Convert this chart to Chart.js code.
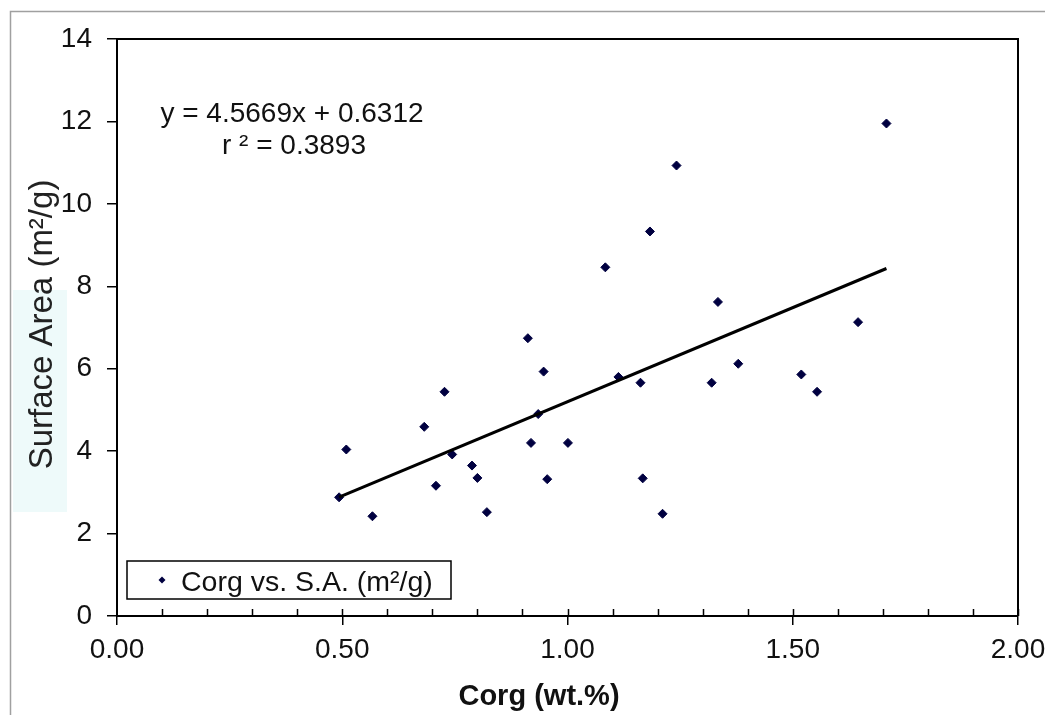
<!DOCTYPE html>
<html>
<head>
<meta charset="utf-8">
<title>Corg vs Surface Area</title>
<script src="https://cdn.jsdelivr.net/npm/chart.js@4.4.0/dist/chart.umd.min.js"></script>
<style>
  body { margin: 0; background: #fff; }
  canvas { display: block; }
</style>
</head>
<body>
<canvas id="chart" width="1045" height="715"></canvas>
<script>
// Corg (wt.%) and surface area (m2/g)
const corg = [0.493, 0.509, 0.567, 0.682, 0.708, 0.727, 0.744, 0.788, 0.800, 0.821,
              0.912, 0.919, 0.935, 0.947, 0.955, 1.001, 1.084, 1.113, 1.162, 1.167,
              1.183, 1.211, 1.242, 1.320, 1.334, 1.379, 1.519, 1.554, 1.645, 1.708];
const surfaceArea = [2.88, 4.04, 2.42, 4.59, 3.16, 5.44, 3.92, 3.65, 3.35, 2.52,
                     6.74, 4.20, 4.90, 5.93, 3.32, 4.20, 8.46, 5.80, 5.66, 3.34,
                     9.33, 2.48, 10.93, 5.66, 7.62, 6.12, 5.86, 5.44, 7.13, 11.95];

// linear trendline as printed on the chart
const slope = 4.5669;
const intercept = 0.6312;
const trendX = [Math.min(...corg), Math.max(...corg)];

const eqLines = ['y = 4.5669x + 0.6312', 'r \u00b2 = 0.3893'];
const seriesLabel = 'Corg vs. S.A. (m\u00b2/g)';
const xTitle = 'Corg (wt.%)';
const yTitle = 'Surface Area (m\u00b2/g)';

const FONT = "'Liberation Sans', Arial, sans-serif";
const pointColor = '#000040';

const points = corg.map(function(x, i) { return { x: x, y: surfaceArea[i] }; });
const trend = trendX.map(function(x) { return { x: x, y: slope * x + intercept }; });

const decorations = {
    id: 'decorations',
    beforeDraw: function(chart) {
        const ctx = chart.ctx;
        ctx.save();
        // outer frame, cut off on the right and bottom
        ctx.strokeStyle = '#a0a0a0';
        ctx.lineWidth = 1.5;
        ctx.beginPath();
        ctx.moveTo(1045, 11.5);
        ctx.lineTo(10.5, 11.5);
        ctx.lineTo(10.5, 715);
        ctx.stroke();
        // pale patch behind the y title
        ctx.fillStyle = '#eefafa';
        ctx.fillRect(13, 290, 54, 222);
        ctx.restore();
    },
    afterDraw: function(chart) {
        const ctx = chart.ctx;
        const area = chart.chartArea;
        const xs = chart.scales.x;
        ctx.save();

        // top and right frame of the plot
        ctx.strokeStyle = '#000';
        ctx.lineWidth = 2;
        ctx.beginPath();
        ctx.moveTo(area.left, area.top);
        ctx.lineTo(area.right, area.top);
        ctx.lineTo(area.right, area.bottom);
        ctx.stroke();

        // inward ticks every 0.1 on the x axis
        ctx.lineWidth = 1.5;
        ctx.beginPath();
        for (let i = 1; i <= 20; i++) {
            const px = Math.round(xs.getPixelForValue(i / 10)) + 0.5;
            ctx.moveTo(px, area.bottom);
            ctx.lineTo(px, area.bottom - 7);
        }
        ctx.stroke();

        // equation
        ctx.fillStyle = '#111';
        ctx.font = '28px ' + FONT;
        ctx.textAlign = 'center';
        ctx.textBaseline = 'alphabetic';
        ctx.fillText(eqLines[0], 292, 122);
        ctx.fillText(eqLines[1], 294, 154);

        // legend
        ctx.strokeStyle = '#000';
        ctx.lineWidth = 1.5;
        ctx.fillStyle = '#fff';
        ctx.fillRect(127, 561, 324, 38);
        ctx.strokeRect(127, 561, 324, 38);
        ctx.fillStyle = pointColor;
        ctx.beginPath();
        ctx.moveTo(162, 576.5);
        ctx.lineTo(165.5, 580);
        ctx.lineTo(162, 583.5);
        ctx.lineTo(158.5, 580);
        ctx.closePath();
        ctx.fill();
        ctx.fillStyle = '#111';
        ctx.textAlign = 'left';
        ctx.font = '28.5px ' + FONT;
        ctx.fillText(seriesLabel, 181, 591);

        // axis titles
        ctx.font = 'bold 29px ' + FONT;
        ctx.textAlign = 'center';
        ctx.fillText(xTitle, 539, 705);

        ctx.font = '33px ' + FONT;
        ctx.fillStyle = '#222';
        ctx.translate(52, (area.top + area.bottom) / 2 - 3);
        ctx.rotate(-Math.PI / 2);
        ctx.fillText(yTitle, 0, 0);
        ctx.restore();
    }
};

new Chart(document.getElementById('chart'), {
    type: 'scatter',
    data: {
        datasets: [
            {
                label: 'Trendline',
                type: 'line',
                data: trend,
                borderColor: '#000',
                borderWidth: 3,
                pointRadius: 0,
                fill: false,
                order: 0
            },
            {
                label: seriesLabel,
                data: points,
                pointStyle: 'rectRot',
                pointRadius: 4.5,
                pointBackgroundColor: pointColor,
                pointBorderColor: pointColor,
                pointBorderWidth: 1,
                order: 1
            }
        ]
    },
    options: {
        responsive: false,
        animation: false,
        layout: { padding: { top: 39, right: 27, left: 0, bottom: 0 } },
        plugins: {
            legend: { display: false },
            tooltip: { enabled: false }
        },
        scales: {
            x: {
                type: 'linear',
                min: 0,
                max: 2,
                afterFit: function(scale) {
                    scale.height = 99;
                    scale.paddingLeft = 0;
                    scale.paddingRight = 0;
                },
                ticks: {
                    stepSize: 0.5,
                    padding: 8,
                    color: '#111',
                    font: { family: FONT, size: 28 },
                    callback: function(v) { return v.toFixed(2); }
                },
                grid: {
                    drawOnChartArea: false,
                    drawTicks: true,
                    tickLength: 9,
                    tickColor: '#000',
                    lineWidth: 1.5
                },
                border: { display: true, color: '#000', width: 2 }
            },
            y: {
                min: 0,
                max: 14,
                afterFit: function(scale) { scale.width = 117; },
                ticks: {
                    stepSize: 2,
                    padding: 15,
                    color: '#111',
                    font: { family: FONT, size: 28 }
                },
                grid: {
                    drawOnChartArea: false,
                    drawTicks: true,
                    tickLength: 10,
                    tickColor: '#000',
                    lineWidth: 1.5
                },
                border: { display: true, color: '#000', width: 2 }
            }
        }
    },
    plugins: [decorations]
});
</script>
</body>
</html>
